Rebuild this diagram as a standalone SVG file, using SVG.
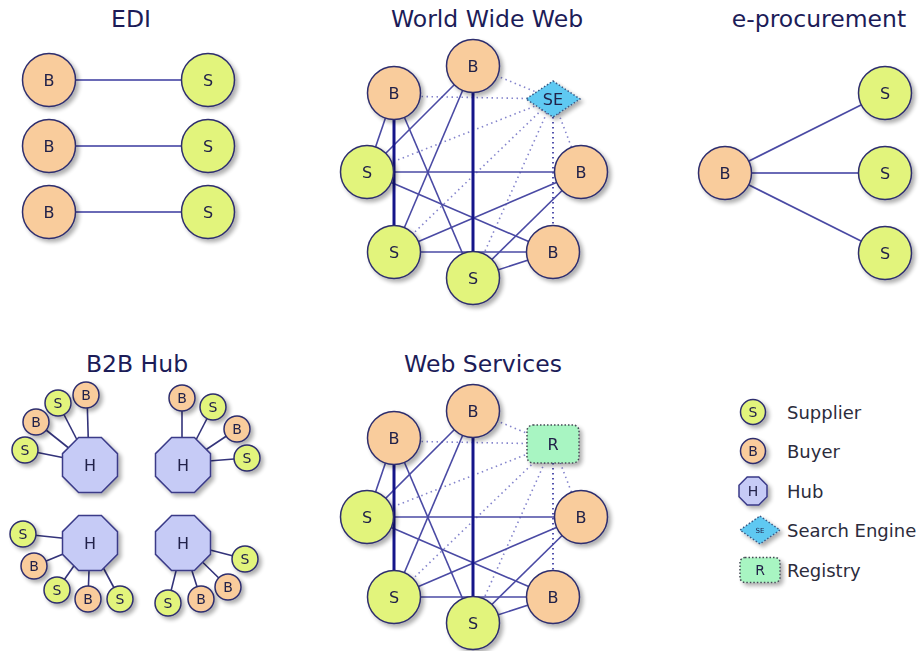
<svg xmlns="http://www.w3.org/2000/svg" xmlns:xlink="http://www.w3.org/1999/xlink" width="922" height="651" viewBox="0 0 922 651">
<style>
text{font-family:"DejaVu Sans","Liberation Sans",Arial,sans-serif;text-anchor:middle;fill:#22224a}
.title{font-size:23.5px;fill:#1c1c58}
.lb{font-size:16px}
.sm{font-size:14px}
.lg{font-size:18px;text-anchor:start;fill:#2c2c3c}
.b{fill:#f9cc9c;stroke:#2e2e6e;stroke-width:1.5}
.s{fill:#e2f47c;stroke:#2e2e6e;stroke-width:1.5}
.h{fill:#c6cbf6;stroke:#3a3a88;stroke-width:1.5}
.se{fill:#5ec9f2;stroke:#3b5a86;stroke-width:1.5;stroke-dasharray:1.5 2}
.r{fill:#a8f5c2;stroke:#444a55;stroke-width:1.5;stroke-dasharray:1.5 2}
.e{stroke:#4a4aa4;stroke-width:1.6;fill:none}
.ed{stroke:#6a6ab6;stroke-width:2;fill:none}
.hl{stroke:#33337a;stroke-width:1.6;fill:none}
.tk{stroke:#15158a;stroke-width:3;fill:none}
.dt{stroke:#8484cc;stroke-width:1.6;stroke-dasharray:1.5 3.5;fill:none}
.dv{stroke:#2a2a9a;stroke-width:1.6;stroke-dasharray:1.5 3.5;fill:none}
.n{filter:url(#sh)}
</style>
<defs>
<filter id="sh" x="-40%" y="-40%" width="180%" height="180%">
<feGaussianBlur in="SourceAlpha" stdDeviation="2.2"/>
<feOffset dx="3" dy="3"/>
<feComponentTransfer><feFuncA type="linear" slope="0.32"/></feComponentTransfer>
<feMerge><feMergeNode/><feMergeNode in="SourceGraphic"/></feMerge>
</filter>
<polygon id="oct" points="-11.4,-27.5 11.4,-27.5 27.5,-11.4 27.5,11.4 11.4,27.5 -11.4,27.5 -27.5,11.4 -27.5,-11.4"/>
</defs>

<g id="titles">
<text class="title" x="131" y="27">EDI</text>
<text class="title" x="487" y="27">World Wide Web</text>
<text class="title" x="819" y="27">e-procurement</text>
<text class="title" x="137" y="372">B2B Hub</text>
<text class="title" x="483" y="372">Web Services</text>
</g>

<g id="connectors">
<line class="ed" x1="49" y1="80" x2="208" y2="80"/>
<line class="ed" x1="49" y1="146" x2="208" y2="146"/>
<line class="ed" x1="49" y1="212" x2="208" y2="212"/>
<line class="e" x1="725" y1="173" x2="885" y2="93"/>
<line class="ed" x1="725" y1="173" x2="885" y2="173"/>
<line class="e" x1="725" y1="173" x2="885" y2="253"/>
<line class="dt" x1="553" y1="99" x2="394" y2="96"/>
<line class="dt" x1="553" y1="99" x2="473" y2="66"/>
<line class="dt" x1="553" y1="99" x2="367" y2="172"/>
<line class="dt" x1="553" y1="99" x2="394" y2="252"/>
<line class="dt" x1="553" y1="99" x2="473" y2="278"/>
<line class="dt" x1="553" y1="99" x2="581" y2="172"/>
<line class="dv" x1="553" y1="117" x2="553" y2="252"/>
<line class="e" x1="394" y1="93" x2="367" y2="172"/>
<line class="e" x1="394" y1="93" x2="473" y2="278"/>
<line class="e" x1="473" y1="66" x2="367" y2="172"/>
<line class="e" x1="473" y1="66" x2="394" y2="252"/>
<line class="e" x1="367" y1="172" x2="581" y2="172"/>
<line class="e" x1="367" y1="172" x2="553" y2="252"/>
<line class="e" x1="394" y1="252" x2="581" y2="172"/>
<line class="e" x1="394" y1="252" x2="553" y2="252"/>
<line class="e" x1="473" y1="278" x2="581" y2="172"/>
<line class="e" x1="473" y1="278" x2="553" y2="252"/>
<line class="tk" x1="394" y1="93" x2="394" y2="252"/>
<line class="tk" x1="473" y1="66" x2="473" y2="278"/>
<line class="dt" x1="553" y1="444" x2="394" y2="441"/>
<line class="dt" x1="553" y1="444" x2="473" y2="411"/>
<line class="dt" x1="553" y1="444" x2="367" y2="517"/>
<line class="dt" x1="553" y1="444" x2="394" y2="597"/>
<line class="dt" x1="553" y1="444" x2="473" y2="623"/>
<line class="dt" x1="553" y1="444" x2="581" y2="517"/>
<line class="dv" x1="553" y1="463" x2="553" y2="597"/>
<line class="e" x1="394" y1="438" x2="367" y2="517"/>
<line class="e" x1="394" y1="438" x2="473" y2="623"/>
<line class="e" x1="473" y1="411" x2="367" y2="517"/>
<line class="e" x1="473" y1="411" x2="394" y2="597"/>
<line class="e" x1="367" y1="517" x2="581" y2="517"/>
<line class="e" x1="367" y1="517" x2="553" y2="597"/>
<line class="e" x1="394" y1="597" x2="581" y2="517"/>
<line class="e" x1="394" y1="597" x2="553" y2="597"/>
<line class="e" x1="473" y1="623" x2="581" y2="517"/>
<line class="e" x1="473" y1="623" x2="553" y2="597"/>
<line class="tk" x1="394" y1="438" x2="394" y2="597"/>
<line class="tk" x1="473" y1="411" x2="473" y2="623"/>
<line class="hl" x1="87" y1="395" x2="89" y2="465"/>
<line class="hl" x1="58" y1="403" x2="90" y2="465"/>
<line class="hl" x1="36" y1="422" x2="90" y2="465"/>
<line class="hl" x1="25" y1="450" x2="90" y2="463"/>
<line class="hl" x1="182" y1="398" x2="182" y2="465"/>
<line class="hl" x1="213" y1="407" x2="183" y2="465"/>
<line class="hl" x1="237" y1="429" x2="183" y2="465"/>
<line class="hl" x1="247" y1="458" x2="183" y2="463"/>
<line class="hl" x1="23" y1="534" x2="90" y2="541"/>
<line class="hl" x1="34" y1="566" x2="90" y2="543"/>
<line class="hl" x1="57" y1="590" x2="90" y2="543"/>
<line class="hl" x1="88" y1="599" x2="90" y2="543"/>
<line class="hl" x1="120" y1="599" x2="90" y2="543"/>
<line class="hl" x1="245" y1="559" x2="183" y2="543"/>
<line class="hl" x1="228" y1="587" x2="183" y2="543"/>
<line class="hl" x1="201" y1="599" x2="183" y2="543"/>
<line class="hl" x1="168" y1="603" x2="183" y2="543"/>
</g>

<g id="edi-b1" class="n"><circle class="b" cx="49" cy="80" r="26.5"/><text class="lb" x="49" y="86">B</text></g>
<g id="edi-s1" class="n"><circle class="s" cx="208" cy="80" r="26.5"/><text class="lb" x="208" y="86">S</text></g>
<g id="edi-b2" class="n"><circle class="b" cx="49" cy="146" r="26.5"/><text class="lb" x="49" y="152">B</text></g>
<g id="edi-s2" class="n"><circle class="s" cx="208" cy="146" r="26.5"/><text class="lb" x="208" y="152">S</text></g>
<g id="edi-b3" class="n"><circle class="b" cx="49" cy="212" r="26.5"/><text class="lb" x="49" y="218">B</text></g>
<g id="edi-s3" class="n"><circle class="s" cx="208" cy="212" r="26.5"/><text class="lb" x="208" y="218">S</text></g>

<g id="ep-b" class="n"><circle class="b" cx="725" cy="173" r="26.5"/><text class="lb" x="725" y="179">B</text></g>
<g id="ep-s1" class="n"><circle class="s" cx="885" cy="93" r="26.5"/><text class="lb" x="885" y="99">S</text></g>
<g id="ep-s2" class="n"><circle class="s" cx="885" cy="173" r="26.5"/><text class="lb" x="885" y="179">S</text></g>
<g id="ep-s3" class="n"><circle class="s" cx="885" cy="253" r="26.5"/><text class="lb" x="885" y="259">S</text></g>

<g id="www-b1" class="n"><circle class="b" cx="394" cy="93" r="26.5"/><text class="lb" x="394" y="99">B</text></g>
<g id="www-b2" class="n"><circle class="b" cx="473" cy="66" r="26.5"/><text class="lb" x="473" y="72">B</text></g>
<g id="www-se" class="n"><polygon class="se" points="553,81 580,99 553,117 526,99"/><text class="lb" x="553" y="105">SE</text></g>
<g id="www-s1" class="n"><circle class="s" cx="367" cy="172" r="26.5"/><text class="lb" x="367" y="178">S</text></g>
<g id="www-b3" class="n"><circle class="b" cx="581" cy="172" r="26.5"/><text class="lb" x="581" y="178">B</text></g>
<g id="www-s2" class="n"><circle class="s" cx="394" cy="252" r="26.5"/><text class="lb" x="394" y="258">S</text></g>
<g id="www-b4" class="n"><circle class="b" cx="553" cy="252" r="26.5"/><text class="lb" x="553" y="258">B</text></g>
<g id="www-s3" class="n"><circle class="s" cx="473" cy="278" r="26.5"/><text class="lb" x="473" y="284">S</text></g>

<g id="ws-b1" class="n"><circle class="b" cx="394" cy="438" r="26.5"/><text class="lb" x="394" y="444">B</text></g>
<g id="ws-b2" class="n"><circle class="b" cx="473" cy="411" r="26.5"/><text class="lb" x="473" y="417">B</text></g>
<g id="ws-r" class="n"><rect class="r" x="527" y="425" width="52" height="38" rx="6"/><text class="lb" x="553" y="450">R</text></g>
<g id="ws-s1" class="n"><circle class="s" cx="367" cy="517" r="26.5"/><text class="lb" x="367" y="523">S</text></g>
<g id="ws-b3" class="n"><circle class="b" cx="581" cy="517" r="26.5"/><text class="lb" x="581" y="523">B</text></g>
<g id="ws-s2" class="n"><circle class="s" cx="394" cy="597" r="26.5"/><text class="lb" x="394" y="603">S</text></g>
<g id="ws-b4" class="n"><circle class="b" cx="553" cy="597" r="26.5"/><text class="lb" x="553" y="603">B</text></g>
<g id="ws-s3" class="n"><circle class="s" cx="473" cy="623" r="26.5"/><text class="lb" x="473" y="629">S</text></g>

<g id="hub1" class="n"><use xlink:href="#oct" class="h" x="90" y="465"/><text class="lb" x="90" y="471">H</text></g>
<g id="hub1-b1" class="n"><circle class="b" cx="86" cy="395" r="13"/><text class="sm" x="86" y="400">B</text></g>
<g id="hub1-s1" class="n"><circle class="s" cx="58" cy="403" r="13"/><text class="sm" x="58" y="408">S</text></g>
<g id="hub1-b2" class="n"><circle class="b" cx="36" cy="422" r="13"/><text class="sm" x="36" y="427">B</text></g>
<g id="hub1-s2" class="n"><circle class="s" cx="25" cy="450" r="13"/><text class="sm" x="25" y="455">S</text></g>
<g id="hub2" class="n"><use xlink:href="#oct" class="h" x="183" y="465"/><text class="lb" x="183" y="471">H</text></g>
<g id="hub2-b1" class="n"><circle class="b" cx="182" cy="398" r="13"/><text class="sm" x="182" y="403">B</text></g>
<g id="hub2-s1" class="n"><circle class="s" cx="213" cy="407" r="13"/><text class="sm" x="213" y="412">S</text></g>
<g id="hub2-b2" class="n"><circle class="b" cx="237" cy="429" r="13"/><text class="sm" x="237" y="434">B</text></g>
<g id="hub2-s2" class="n"><circle class="s" cx="247" cy="458" r="13"/><text class="sm" x="247" y="463">S</text></g>
<g id="hub3" class="n"><use xlink:href="#oct" class="h" x="90" y="543"/><text class="lb" x="90" y="549">H</text></g>
<g id="hub3-s1" class="n"><circle class="s" cx="23" cy="534" r="13"/><text class="sm" x="23" y="539">S</text></g>
<g id="hub3-b1" class="n"><circle class="b" cx="34" cy="566" r="13"/><text class="sm" x="34" y="571">B</text></g>
<g id="hub3-s2" class="n"><circle class="s" cx="57" cy="590" r="13"/><text class="sm" x="57" y="595">S</text></g>
<g id="hub3-b2" class="n"><circle class="b" cx="88" cy="599" r="13"/><text class="sm" x="88" y="604">B</text></g>
<g id="hub3-s3" class="n"><circle class="s" cx="120" cy="599" r="13"/><text class="sm" x="120" y="604">S</text></g>
<g id="hub4" class="n"><use xlink:href="#oct" class="h" x="183" y="543"/><text class="lb" x="183" y="549">H</text></g>
<g id="hub4-s1" class="n"><circle class="s" cx="245" cy="559" r="13"/><text class="sm" x="245" y="564">S</text></g>
<g id="hub4-b1" class="n"><circle class="b" cx="228" cy="587" r="13"/><text class="sm" x="228" y="592">B</text></g>
<g id="hub4-b2" class="n"><circle class="b" cx="201" cy="599" r="13"/><text class="sm" x="201" y="604">B</text></g>
<g id="hub4-s2" class="n"><circle class="s" cx="168" cy="603" r="13"/><text class="sm" x="168" y="608">S</text></g>

<g id="legend-supplier"><g class="n"><circle class="s" cx="753" cy="412" r="12.5"/><text class="sm" x="753" y="417">S</text></g><text class="lg" x="787" y="419">Supplier</text></g>
<g id="legend-buyer"><g class="n"><circle class="b" cx="753" cy="451" r="12.5"/><text class="sm" x="753" y="456">B</text></g><text class="lg" x="787" y="458">Buyer</text></g>
<g id="legend-hub"><g class="n"><polygon class="h" points="747.2,477 758.8,477 767,485.2 767,496.8 758.8,505 747.2,505 739,496.8 739,485.2"/><text class="sm" x="753" y="496">H</text></g><text class="lg" x="787" y="498">Hub</text></g>
<g id="legend-se"><g class="n"><polygon class="se" points="760,516 780,530 760,544 740,530"/><text x="760" y="533" style="font-size:7px">SE</text></g><text class="lg" x="787" y="537">Search Engine</text></g>
<g id="legend-registry"><g class="n"><rect class="r" x="740" y="557.5" width="40" height="25" rx="5"/><text class="sm" x="760" y="575">R</text></g><text class="lg" x="787" y="577">Registry</text></g>
</svg>
